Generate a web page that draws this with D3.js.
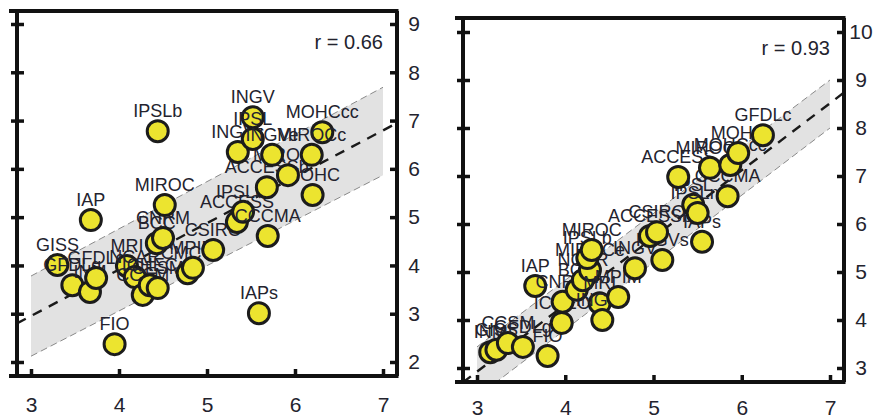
<!DOCTYPE html>
<html><head><meta charset="utf-8">
<script src="https://cdn.jsdelivr.net/npm/d3@7/dist/d3.min.js"></script>
<style>
html,body{margin:0;padding:0;background:#fff;}
svg{display:block;font-family:"Liberation Sans",Arial,Helvetica,sans-serif;}
</style></head><body>
<svg id="c" width="881" height="419"></svg>
<script>
// ---------- data ----------
const xTicks = [3, 4, 5, 6, 7];
const leftYTicks = [2, 3, 4, 5, 6, 7, 8, 9];
const rightYTicks = [3, 4, 5, 6, 7, 8, 9, 10];

const leftNames = ["GISS","GFDLg","INM","GFDLc","IAP","MRI","NCAR","CCSM","ICHEC","CESM","FIO","BCC","CNRM","MIROC","IPSLb","CMCC","MPIM","CSIRO","ACCESS","IPSLm","CCCMA","IAPs","ACCESSb","MOHC","MIROCe","INGVs","INGV","IPSL","INGVe","MOHCcc","MIROCc"];
const leftX = [3.30,3.47,3.67,3.74,3.68,4.09,4.18,4.27,4.35,4.44,3.95,4.43,4.50,4.52,4.44,4.78,4.84,5.07,5.34,5.41,5.69,5.59,5.68,6.20,5.92,5.35,5.52,5.52,5.74,6.31,6.19];
const leftY = [4.01,3.59,3.45,3.74,4.94,3.99,3.76,3.39,3.59,3.53,2.37,4.46,4.57,5.25,6.78,3.84,3.95,4.32,4.90,5.11,4.61,3.01,5.62,5.46,5.87,6.35,7.07,6.62,6.29,6.76,6.29];

const rightNames = ["INM","GISS","CCSM","GFDLg","FIO","ICHEC","IAP","CNRM","BCC","NCAR","MIROCe","IPSLb","MIROC","MRI","INGVe","MPIM","INGV","INGVs","ACCESSb","CSIRO","IAPs","IPSL","IPSLm","ACCESS","CCCMA","MIROCc","MOHCcc","MOHC","GFDLc"];
const rightX = [3.15,3.22,3.35,3.52,3.80,3.96,3.66,3.97,4.13,4.20,4.28,4.25,4.30,4.39,4.42,4.60,4.79,5.10,4.96,5.04,5.55,5.45,5.50,5.28,5.84,5.64,5.87,5.96,6.24];
const rightY = [3.33,3.38,3.52,3.44,3.25,3.94,4.71,4.38,4.63,4.83,5.04,5.29,5.46,4.35,4.00,4.48,5.08,5.25,5.75,5.83,5.63,6.40,6.23,6.98,6.58,7.17,7.23,7.48,7.85];

const bandX = [3, 7];
const leftBandLo = [2.12, 5.87];
const leftBandHi = [3.78, 7.69];
const rightBandLo = [2.40, 8.00];
const rightBandHi = [3.44, 9.00];
const fitX = [2.84, 7.16];
const leftFitY = [2.80, 6.95];
const rightFitY = [2.70, 8.74];
const leftR = "r = 0.66";
const rightR = "r = 0.93";

// ---------- drawing ----------
const svg = d3.select("#c");
const panels = [
  {names:leftNames, xs:leftX, ys:leftY, yTicks:leftYTicks, lo:leftBandLo, hi:leftBandHi, fit:leftFitY, r:leftR,
   x0:17, x1:397, top:11, bottom:376, xr:[31,383], yd:[2,9], yr:[362,24]},
  {names:rightNames, xs:rightX, ys:rightY, yTicks:rightYTicks, lo:rightBandLo, hi:rightBandHi, fit:rightFitY, r:rightR,
   x0:463, x1:844, top:18, bottom:382, xr:[477,830], yd:[3,10], yr:[368,32]}
];

panels.forEach((p, pi) => {
  const x = d3.scaleLinear().domain([3, 7]).range(p.xr);
  const y = d3.scaleLinear().domain(p.yd).range(p.yr);
  const g = svg.append("g");
  const clipId = "clip" + pi;
  svg.append("clipPath").attr("id", clipId).append("rect")
    .attr("x", p.x0).attr("y", p.top).attr("width", p.x1 - p.x0).attr("height", p.bottom - p.top);
  const plot = g.append("g").attr("clip-path", `url(#${clipId})`);

  // band
  const bandPts = bandX.map((v, i) => [x(v), y(p.hi[i])]).concat(bandX.map((v, i) => [x(v), y(p.lo[i])]).reverse());
  plot.append("path").attr("d", d3.line()(bandPts) + "Z").attr("fill", "#e2e2e2").attr("stroke", "none");
  [p.hi, p.lo].forEach(arr => {
    plot.append("path").attr("d", d3.line()(bandX.map((v, i) => [x(v), y(arr[i])])))
      .attr("fill", "none").attr("stroke", "#8a8a8a").attr("stroke-width", 1).attr("stroke-dasharray", "7,4");
  });
  plot.append("path").attr("d", d3.line()(fitX.map((v, i) => [x(v), y(p.fit[i])])))
    .attr("fill", "none").attr("stroke", "#1a1a1a").attr("stroke-width", 2.4).attr("stroke-dasharray", "10,8");

  // points + labels (pairwise order)
  const pts = plot.append("g");
  p.names.forEach((n, i) => {
    pts.append("circle").attr("cx", x(p.xs[i])).attr("cy", y(p.ys[i])).attr("r", 10.5)
      .attr("fill", "#ece42f").attr("stroke", "#1c1c1c").attr("stroke-width", 3);
    pts.append("text").attr("x", x(p.xs[i])).attr("y", y(p.ys[i]) - 14)
      .attr("text-anchor", "middle").attr("font-size", 18).attr("fill", "#23232e").text(n);
  });

  // r text
  g.append("text").attr("x", p.xr[1]).attr("y", p.top + (pi === 0 ? 38 : 37))
    .attr("text-anchor", "end").attr("font-size", 20).attr("fill", "#23232e").text(p.r);

  // axes
  const bx = g.append("g").attr("transform", `translate(0,${p.bottom})`)
    .call(d3.axisBottom(x).tickValues(xTicks).tickSizeInner(-7).tickSizeOuter(0).tickPadding(28).tickFormat(d3.format("d")));
  const ly = g.append("g").attr("transform", `translate(${p.x0},0)`)
    .call(d3.axisLeft(y).tickValues(p.yTicks).tickSizeInner(6).tickSizeOuter(0).tickFormat(""));
  ly.selectAll(".tick line").attr("x2", 7).attr("x1", -6);
  const ry = g.append("g").attr("transform", `translate(${p.x1},0)`)
    .call(d3.axisRight(y).tickValues(p.yTicks).tickSizeInner(-7).tickSizeOuter(0).tickPadding(17).tickFormat(d3.format("d")));
  ry.selectAll(".tick text").attr("text-anchor", "middle");
  [bx, ly, ry].forEach(a => {
    a.select(".domain").remove();
    a.selectAll(".tick line").attr("stroke", "#111").attr("stroke-width", 3.5);
    a.selectAll(".tick text").attr("font-size", 21).attr("fill", "#23232e").attr("font-family", "'Liberation Sans',Arial,sans-serif");
  });
  bx.selectAll(".tick text").attr("dy", "0").attr("y", p.bottom === 376 ? 36 : 33);

  // frame
  const fr = g.append("g").attr("stroke", "#111").attr("stroke-width", 4).attr("fill", "none");
  fr.append("line").attr("x1", p.x0 - 8).attr("x2", p.x1 + 1.5).attr("y1", p.top).attr("y2", p.top);
  fr.append("line").attr("x1", p.x0 - 8).attr("x2", p.x1 + 1.5).attr("y1", p.bottom).attr("y2", p.bottom);
  fr.append("line").attr("x1", p.x0).attr("x2", p.x0).attr("y1", p.top).attr("y2", p.bottom);
  fr.append("line").attr("x1", p.x1).attr("x2", p.x1).attr("y1", p.top).attr("y2", p.bottom);
});
</script>
</body></html>
